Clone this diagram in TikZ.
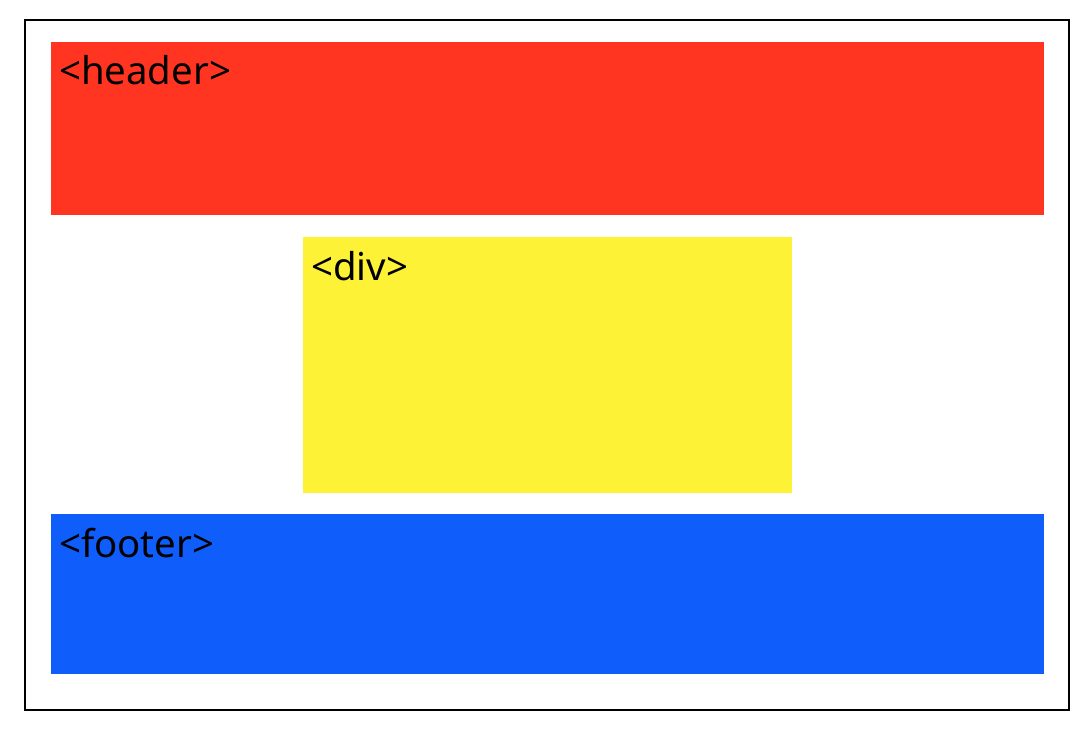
\documentclass[tikz,border=0pt]{standalone}
\usepackage{fontspec}
\setmainfont{Noto Sans}
\definecolor{hdr}{HTML}{FF3522}
\definecolor{dv}{HTML}{FDF235}
\definecolor{ftr}{HTML}{0F5EFB}
\begin{document}
\begin{tikzpicture}[x=1bp,y=-1bp,
  blockbox/.style={draw=none,inner sep=0pt,outer sep=0pt,anchor=north west},
  tagtext/.style={anchor=base west,inner sep=0pt,font=\fontsize{38.5}{41}\selectfont,text=black}]
\useasboundingbox (0,0) rectangle (1092,732);
\draw[line width=2bp] (25,20) rectangle (1069,710);
\node[blockbox,fill=hdr,minimum width=993bp,minimum height=173bp] (header) at (51,42) {};
\node[blockbox,fill=dv,minimum width=489bp,minimum height=256bp] (div) at (303,237) {};
\node[blockbox,fill=ftr,minimum width=993bp,minimum height=160bp] (footer) at (51,514) {};
\node[tagtext] (htext) at ([xshift=8bp,yshift=-43bp]header.north west) {<header>};
\node[tagtext] (dtext) at ([xshift=8bp,yshift=-43bp]div.north west) {<div>};
\node[tagtext] (ftext) at ([xshift=8bp,yshift=-43bp]footer.north west) {<footer>};
\end{tikzpicture}
\end{document}
